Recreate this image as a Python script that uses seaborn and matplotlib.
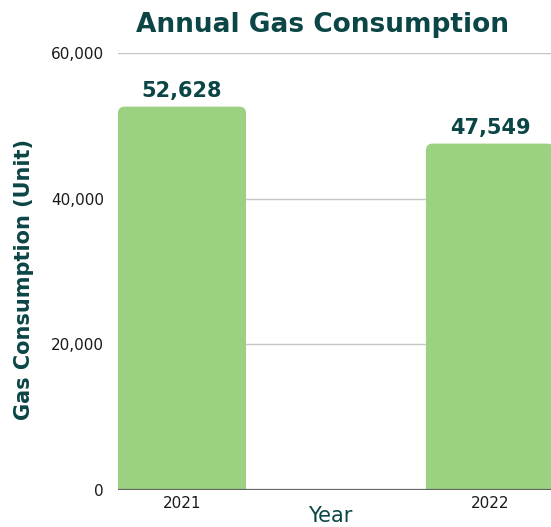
import matplotlib
matplotlib.use("Agg")
import matplotlib.pyplot as plt
import seaborn as sns
import pandas as pd
from matplotlib.patches import FancyBboxPatch

# ── Data ──────────────────────────────────────────────────────────────────────
years = ["2021", "2022"]
consumption = [52628, 47549]
y_ticks = [0, 20000, 40000, 60000]

TEAL = "#0b4545"
GREEN = "#9bd180"

df = pd.DataFrame({"Year": years, "Consumption": consumption})

sns.set_theme(style="white")
plt.rcParams["font.family"] = ["DejaVu Sans"]

fig = plt.figure(figsize=(5.51, 5.27), dpi=100)
ax = fig.add_axes([0.214, 0.0702, 0.786, 0.8294])

ax.set_axisbelow(True)
ax.yaxis.grid(True, color="#c4c4c4", linewidth=1)

sns.barplot(data=df, x="Year", y="Consumption", color=GREEN, width=0.416,
            saturation=1, ax=ax, zorder=2)

# swap plain bars for ones with rounded tops
ax.set_ylim(0, 60000)
ax.set_xlim(-0.208, 1.198)
bb = ax.get_window_extent()
aspect = (60000 / bb.height) / ((1.198 + 0.208) / bb.width)
for p in list(ax.patches):
    x, w, h = p.get_x(), p.get_width(), p.get_height()
    pad = 3000  # push bottom corners below the axis so only the top is rounded
    rp = FancyBboxPatch((x, -pad), w, h + pad,
                        boxstyle="round,pad=0,rounding_size=0.022",
                        mutation_aspect=aspect, facecolor=GREEN,
                        edgecolor="none", zorder=2, clip_on=True)
    ax.add_patch(rp)
    p.remove()
    ax.text(x + w / 2, h + 750, f"{h:,.0f}", ha="center", va="bottom",
            fontsize=15, fontweight="heavy", color=TEAL)

ax.axhline(0, color="#666666", linewidth=1.6, zorder=3)

ax.set_yticks(y_ticks)
ax.set_yticklabels([f"{v:,}" for v in y_ticks])
ax.tick_params(axis="both", length=0, labelsize=11, labelcolor="#1a1a1a")
ax.tick_params(axis="y", pad=10)
ax.tick_params(axis="x", pad=4)

ax.set_xlabel("Year", fontsize=15, color=TEAL)
ax.xaxis.set_label_coords(0.49, -0.037)
ax.set_ylabel("")

sns.despine(ax=ax, left=True, right=True, top=True, bottom=True)

fig.text(24 / 551, 1 - 280 / 527, "Gas Consumption (Unit)", rotation=90,
         ha="center", va="center", fontsize=15, fontweight="heavy", color=TEAL)
fig.text(0.585, 0.953, "Annual Gas Consumption", ha="center", va="center",
         fontsize=19, fontweight="heavy", color=TEAL)

fig.savefig("out.png", dpi=100)
